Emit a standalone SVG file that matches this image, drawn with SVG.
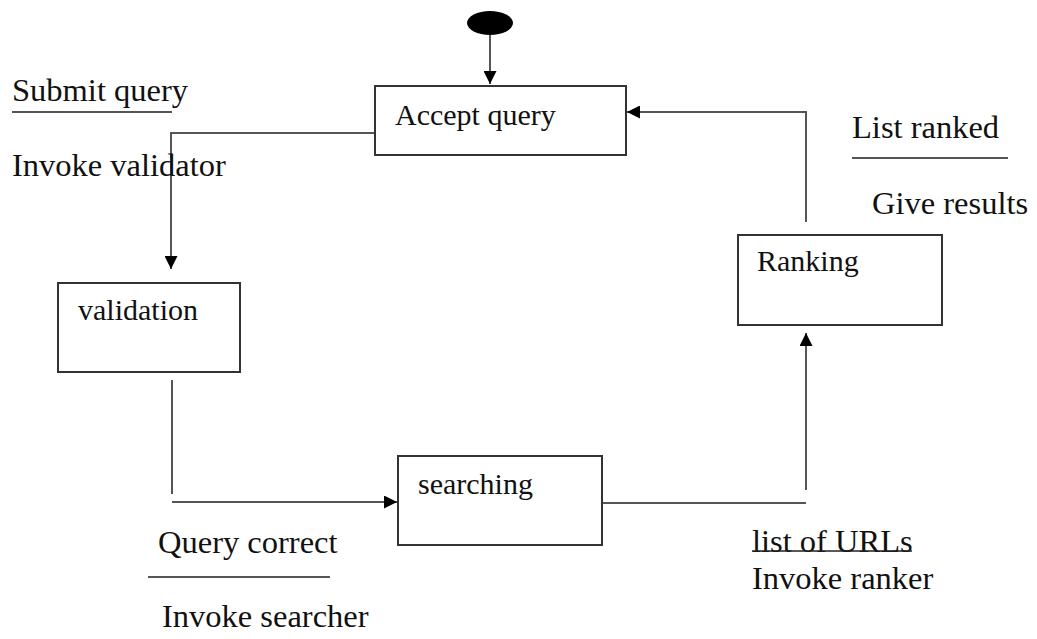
<svg xmlns="http://www.w3.org/2000/svg" width="1037" height="639" viewBox="0 0 1037 639">
<style>
text{font-family:"Liberation Serif","Times New Roman",serif;font-size:30px;fill:#111}
.lbl{font-size:32.5px}
.box{fill:#fff;stroke:#333;stroke-width:2}
.con{fill:none;stroke:#555;stroke-width:2}
.rule{stroke:#555;stroke-width:2}
</style>
<defs>
<marker id="ah" viewBox="0 0 10 10" refX="10" refY="5" markerWidth="13" markerHeight="13" markerUnits="userSpaceOnUse" orient="auto">
<path d="M0,0 L10,5 L0,10 Z" fill="#000"/>
</marker>
</defs>
<g id="connectors">
<line class="con" x1="490" y1="34" x2="490" y2="84" marker-end="url(#ah)"/>
<polyline class="con" points="375,133 171,133 171,269" marker-end="url(#ah)"/>
<line class="con" x1="172" y1="380" x2="172" y2="494"/>
<line class="con" x1="172" y1="502" x2="397" y2="502" marker-end="url(#ah)"/>
<line class="con" x1="602" y1="503" x2="806" y2="503"/>
<line class="con" x1="806" y1="490" x2="806" y2="333" marker-end="url(#ah)"/>
<polyline class="con" points="806,222 806,112 627,112" marker-end="url(#ah)"/>
</g>
<g id="start"><ellipse cx="490" cy="23" rx="23" ry="12" fill="#000"/></g>
<g id="accept-query"><rect class="box" x="375" y="86" width="251" height="69"/><text x="395" y="125">Accept query</text></g>
<g id="validation"><rect class="box" x="58" y="283" width="182" height="89"/><text x="78" y="320">validation</text></g>
<g id="searching"><rect class="box" x="398" y="456" width="204" height="89"/><text x="418" y="494">searching</text></g>
<g id="ranking"><rect class="box" x="738" y="235" width="204" height="90"/><text x="757" y="271">Ranking</text></g>
<g id="labels">
<text class="lbl" x="12" y="101">Submit query</text>
<line class="rule" x1="12" y1="112" x2="172" y2="112"/>
<text class="lbl" x="12" y="176">Invoke validator</text>
<text class="lbl" x="852" y="138">List ranked</text>
<line class="rule" x1="852" y1="158" x2="1008" y2="158"/>
<text class="lbl" x="872" y="214">Give results</text>
<text class="lbl" x="158" y="553">Query correct</text>
<line class="rule" x1="148" y1="577" x2="330" y2="577"/>
<text class="lbl" x="162" y="627">Invoke searcher</text>
<text class="lbl" x="752" y="552">list of URLs</text>
<line x1="752" y1="551" x2="912" y2="551" stroke="#222" stroke-width="1.5"/>
<text class="lbl" x="752" y="589">Invoke ranker</text>
</g>
</svg>
